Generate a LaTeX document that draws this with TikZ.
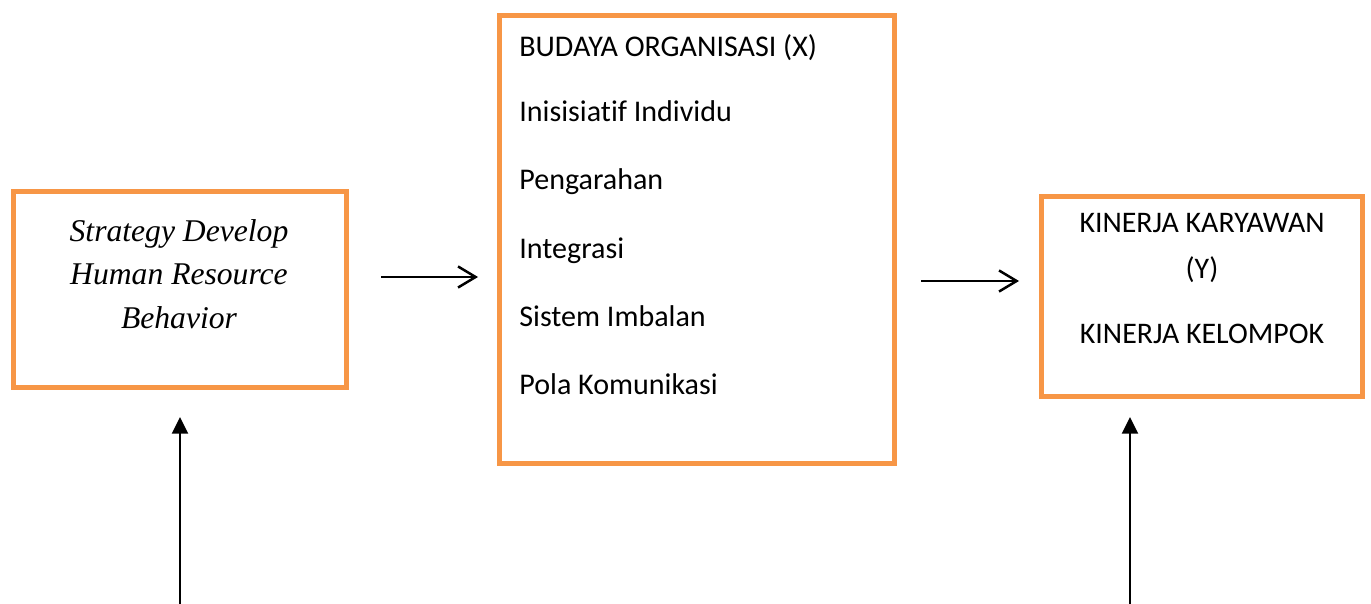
\documentclass[tikz,border=0pt]{standalone}
\usepackage{fontspec}
\setmainfont{Carlito}[Ligatures=NoCommon]
\newfontfamily\timesit{Liberation Serif}
\usetikzlibrary{arrows.meta,positioning}
\definecolor{boxorange}{RGB}{247,150,70}

\begin{document}
\begin{tikzpicture}[x=0.02cm, y=-0.02cm,
    frame/.style={draw=boxorange, line width=2.8pt, inner sep=0pt},
    item/.style={anchor=base west, inner sep=0pt, font=\fontsize{17.1}{21}\selectfont},
    kin/.style={anchor=base, inner sep=0pt, font=\fontsize{17}{21}\selectfont},
    strat/.style={anchor=base, inner sep=0pt, font=\timesit\itshape\fontsize{18}{22}\selectfont},
    link/.style={line width=1.4pt, -{Straight Barb[length=10pt, width=12pt, line width=1.4pt]}},
    feed/.style={line width=1.6pt, -{Triangle[length=9.5pt, width=9pt]}}]
    \useasboundingbox (0,0) rectangle (1371,604);

    % boxes
    \node[frame, minimum width=6.66cm, minimum height=3.92cm] (strategi) at (180,289.5) {};
    \node[frame, minimum width=7.9cm, minimum height=8.96cm] (budaya) at (697,239.5) {};
    \node[frame, minimum width=6.42cm, minimum height=4cm] (kinerja) at (1202,296.5) {};

    % left box text
    \node[strat] (s1) at (179,242) {Strategy Develop};
    \node[strat] (s2) at (179,285) {Human Resource};
    \node[strat] (s3) at (179,328) {Behavior};

    % middle box text
    \node[item] (b0) at (519,57) {BUDAYA ORGANISASI (X)};
    \node[item] (b1) at (519,122) {Inisisiatif Individu};
    \node[item] (b2) at (519,190) {Pengarahan};
    \node[item] (b3) at (519,258) {Integrasi};
    \node[item] (b4) at (519,326) {Sistem Imbalan};
    \node[item] (b5) at (519,394) {Pola Komunikasi};

    % right box text
    \node[kin] (k1) at (1202,233) {KINERJA KARYAWAN};
    \node[kin] (k2) at (1202,278) {(Y)};
    \node[kin] (k3) at (1202,343) {KINERJA KELOMPOK};

    % arrows
    \coordinate (a1) at (381,277);
    \coordinate (a2) at (478,277);
    \coordinate (c1) at (921,281);
    \coordinate (c2) at (1019,281);
    \coordinate (u1) at (180,606);
    \coordinate (u2) at (1130,606);
    \draw[link] (a1) -- (a2);
    \draw[link] (c1) -- (c2);
    \draw[feed] (u1) -- (u1 |- 0,417);
    \draw[feed] (u2) -- (u2 |- 0,417);
\end{tikzpicture}
\end{document}
